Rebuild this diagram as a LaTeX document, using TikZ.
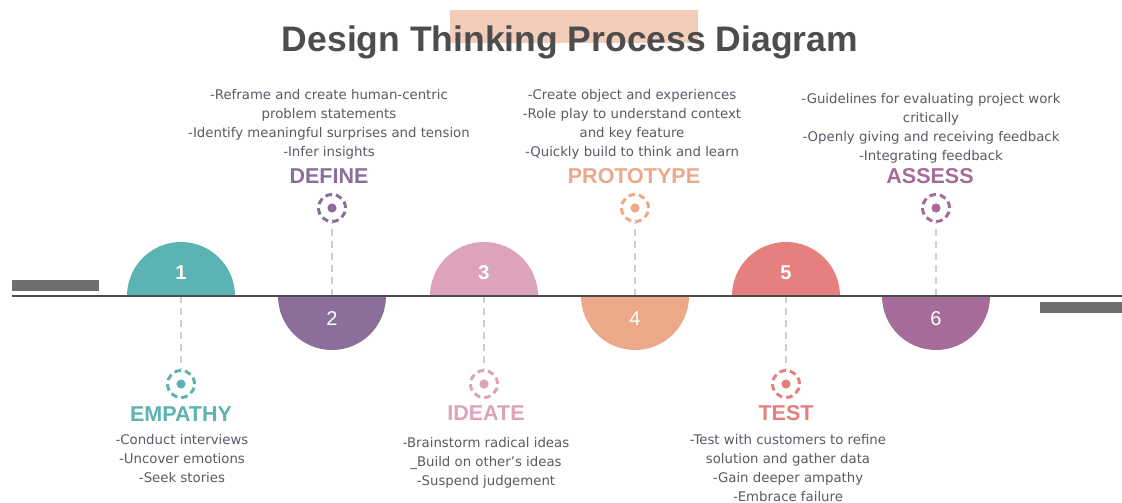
\documentclass[tikz,border=0pt]{standalone}
\usepackage{fontspec}
\setmainfont{DejaVu Sans}
\newfontfamily\headfont{Liberation Sans}
\usetikzlibrary{positioning}
\definecolor{empc}{HTML}{5BB3B3}
\definecolor{defc}{HTML}{8B6F9A}
\definecolor{idec}{HTML}{DCA3BA}
\definecolor{proc}{HTML}{ECA98A}
\definecolor{tesc}{HTML}{E6807F}
\definecolor{assc}{HTML}{A66C99}
\definecolor{ink}{HTML}{4D4D4D}
\definecolor{notec}{HTML}{585A66}
\definecolor{linkc}{HTML}{C8D1DA}
\definecolor{barc}{HTML}{6F6F6F}
\definecolor{hilite}{HTML}{F3CDB9}
\tikzset{
  num/.style={text=white,inner sep=0pt},
  stage/.style={font=\headfont\bfseries\fontsize{21.5}{21.5}\selectfont,inner sep=0pt},
  note/.style={align=center,text=notec,font=\fontsize{13.3}{19}\selectfont,inner sep=0pt},
  marker/.style={circle,draw,line width=3pt,dash pattern=on 6.6pt off 4pt,minimum size=27pt,inner sep=0pt},
  link/.style={draw=linkc,line width=1.8pt,dash pattern=on 7pt off 5pt},
}

\begin{document}
\begin{tikzpicture}[x=1pt,y=1pt]
\useasboundingbox (0,0) rectangle (1122,-503);
% title with its highlight
\fill[hilite] (450,-10) rectangle (698,-43);
\node[anchor=base,text=ink,inner sep=0pt,font=\headfont\bfseries\fontsize{35.5}{35.5}\selectfont] (title) at (570,-52) {Design Thinking Process Diagram};
% bars at both ends
\fill[barc] (12,-280) rectangle (99,-291);
\fill[barc] (1040,-302) rectangle (1122,-313);
% half discs, numbers and markers (\s=1 above the line, -1 below)
\foreach \i/\x/\c/\s/\w in {1/181/empc/1/\bfseries, 2/332/defc/-1/\mdseries, 3/484/idec/1/\bfseries,
                            4/635/proc/-1/\mdseries, 5/786/tesc/1/\bfseries, 6/936/assc/-1/\mdseries} {
  \fill[\c] (\x-54,-296) arc[start angle=180,end angle=180-180*\s,radius=54] -- cycle;
  \node[num,font=\headfont\w\fontsize{20}{20}\selectfont] (n\i) at (\x,-296+23*\s) {\i};
  \coordinate (b\i) at (\x,-296);
  \node[marker,draw=\c] (m\i) at (\x,-296-88*\s) {};
  \fill[\c] (m\i) circle (4.6);
  \draw[link] (b\i) -- (m\i);
}
\draw[ink,line width=2pt] (12,-296) -- (1122,-296);
% stage names and notes
\node[stage,text=empc] (empathy) at (181,-414) {EMPATHY};
\node[note] (empathy-notes) at (182,-459) {-Conduct interviews\\-Uncover emotions\\-Seek stories};
\node[stage,text=defc] (define) at (329,-176) {DEFINE};
\node[note] (define-notes) at (329,-124.5) {-Reframe and create human-centric\\problem statements\\-Identify meaningful surprises and tension\\-Infer insights};
\node[stage,text=idec] (ideate) at (486,-413) {IDEATE};
\node[note] (ideate-notes) at (486,-462.5) {-Brainstorm radical ideas\\\_Build on other’s ideas\\-Suspend judgement};
\node[stage,text=proc] (prototype) at (634,-176) {PROTOTYPE};
\node[note] (prototype-notes) at (632,-124.5) {-Create object and experiences\\-Role play to understand context\\and key feature\\-Quickly build to think and learn};
\node[stage,text=tesc] (test) at (786,-413) {TEST};
\node[note] (test-notes) at (788,-468) {-Test with customers to refine\\solution and gather data\\-Gain deeper ampathy\\-Embrace failure};
\node[stage,text=assc] (assess) at (930,-176) {ASSESS};
\node[note] (assess-notes) at (931,-128.5) {-Guidelines for evaluating project work\\critically\\-Openly giving and receiving feedback\\-Integrating feedback};
\end{tikzpicture}
\end{document}
